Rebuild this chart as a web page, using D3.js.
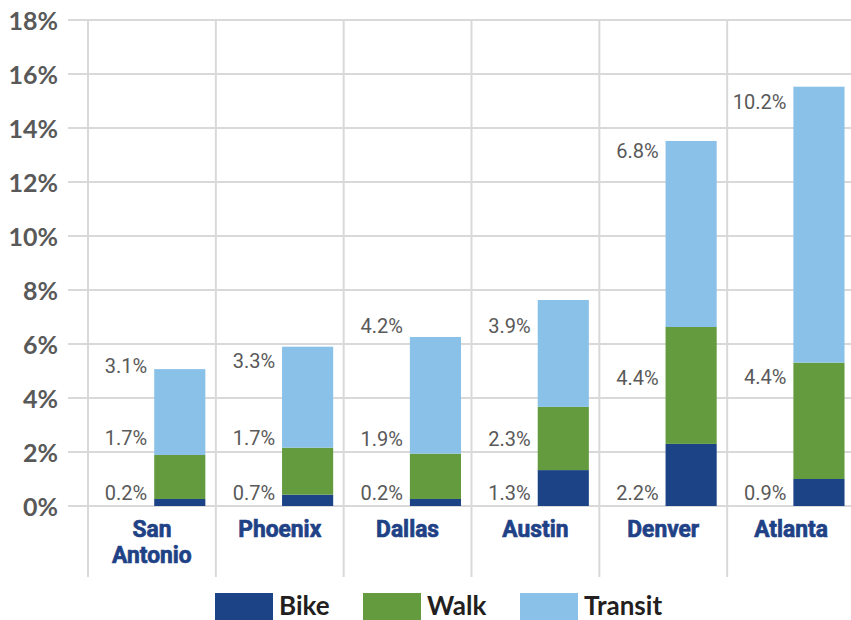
<!DOCTYPE html>
<html>
<head>
<meta charset="utf-8">
<script src="https://cdn.jsdelivr.net/npm/d3@7"></script>
<style>
  html, body { margin: 0; padding: 0; background: #fff; }
  svg { display: block; }
</style>
</head>
<body>
<svg id="chart" width="851" height="620"></svg>
<script>
// ---- data ----
const cities = ["San Antonio", "Phoenix", "Dallas", "Austin", "Denver", "Atlanta"];
const seriesNames = ["Bike", "Walk", "Transit"];
const bike    = [0.26, 0.42, 0.26, 1.33, 2.30, 1.00];
const walk    = [1.63, 1.74, 1.68, 2.34, 4.33, 4.31];
const transit = [3.18, 3.74, 4.32, 3.96, 6.89, 10.22];
const bikeLabels    = ["0.2%", "0.7%", "0.2%", "1.3%", "2.2%", "0.9%"];
const walkLabels    = ["1.7%", "1.7%", "1.9%", "2.3%", "4.4%", "4.4%"];
const transitLabels = ["3.1%", "3.3%", "4.2%", "3.9%", "6.8%", "10.2%"];
// value level (in %) at which each annotation sits
const bikeLabelAt    = [0.48, 0.48, 0.48, 0.48, 0.48, 0.48];
const walkLabelAt    = [2.52, 2.52, 2.50, 2.50, 4.74, 4.76];
const transitLabelAt = [5.19, 5.37, 6.67, 6.67, 13.15, 14.96];
const yTicks = [0, 2, 4, 6, 8, 10, 12, 14, 16, 18];

// ---- styles ----
const colors = { Bike: "#1c4386", Walk: "#639b3e", Transit: "#8ac1e8" };
const gridColor = "#d9d9d9";

const svg = d3.select("#chart");

const y = d3.scaleLinear().domain([0, 18]).range([506, 20]);
const x = d3.scaleBand().domain(cities).range([88, 855]).padding(0);
const bw = x.bandwidth();

// horizontal grid
svg.append("g").selectAll("line").data(yTicks).join("line")
  .attr("x1", 68).attr("x2", 851)
  .attr("y1", d => y(d)).attr("y2", d => y(d))
  .attr("stroke", gridColor).attr("stroke-width", 2);

// vertical separators
svg.append("g").selectAll("line").data(cities).join("line")
  .attr("x1", d => x(d)).attr("x2", d => x(d))
  .attr("y1", y(18)).attr("y2", 577)
  .attr("stroke", gridColor).attr("stroke-width", 2);

// y tick labels
svg.append("g").selectAll("text").data(yTicks).join("text")
  .attr("x", 58).attr("y", d => y(d))
  .attr("text-anchor", "end").attr("dominant-baseline", "central")
  .attr("font-family", "Lato").attr("font-weight", 700).attr("font-size", 25)
  .attr("fill", "#595959")
  .text(d => d + "%");

// stacked bars
const rows = cities.map((c, i) => ({ city: c, Bike: bike[i], Walk: walk[i], Transit: transit[i] }));
const stack = d3.stack().keys(seriesNames)(rows);
const barX = c => x(c) + bw * 0.518;
const barW = bw * 0.4;

svg.append("g").selectAll("g").data(stack).join("g")
  .attr("fill", d => colors[d.key])
  .selectAll("rect").data(d => d).join("rect")
  .attr("x", d => barX(d.data.city))
  .attr("width", barW)
  .attr("y", d => y(d[1]))
  .attr("height", d => y(d[0]) - y(d[1]));

// value annotations
const annos = [];
cities.forEach((c, i) => {
  annos.push({ c, t: bikeLabels[i], v: bikeLabelAt[i] });
  annos.push({ c, t: walkLabels[i], v: walkLabelAt[i] });
  annos.push({ c, t: transitLabels[i], v: transitLabelAt[i] });
});
svg.append("g").selectAll("text").data(annos).join("text")
  .attr("x", d => barX(d.c) - 7)
  .attr("y", d => y(d.v))
  .attr("text-anchor", "end").attr("dominant-baseline", "central")
  .attr("font-family", "Roboto").attr("font-weight", 400).attr("font-size", 20)
  .attr("fill", "#595959")
  .text(d => d.t);

// category labels
const catG = svg.append("g");
cities.forEach(c => {
  const words = c === "San Antonio" ? ["San", "Antonio"] : [c];
  const cx = x(c) + bw / 2;
  const t = catG.append("text")
    .attr("x", cx).attr("y", 537)
    .attr("text-anchor", "middle")
    .attr("font-family", "Roboto").attr("font-weight", 700).attr("font-size", 24)
    .attr("fill", "#1f4286").attr("stroke", "#1f4286").attr("stroke-width", 0.7)
    .attr("transform", `translate(${cx},0) scale(0.95,1) translate(${-cx},0)`);
  words.forEach((w, k) => {
    t.append("tspan").attr("x", cx).attr("dy", k === 0 ? 0 : 26).text(w);
  });
});

// legend
const legendX = { Bike: 215, Walk: 363, Transit: 520 };
const lg = svg.append("g");
seriesNames.forEach(s => {
  lg.append("rect").attr("x", legendX[s]).attr("y", 593).attr("width", 58).attr("height", 27)
    .attr("fill", colors[s]);
  lg.append("text").attr("x", legendX[s] + 64).attr("y", 615)
    .attr("font-family", "Lato").attr("font-weight", 700).attr("font-size", 26)
    .attr("fill", "#231f20").text(s);
});
</script>
</body>
</html>
